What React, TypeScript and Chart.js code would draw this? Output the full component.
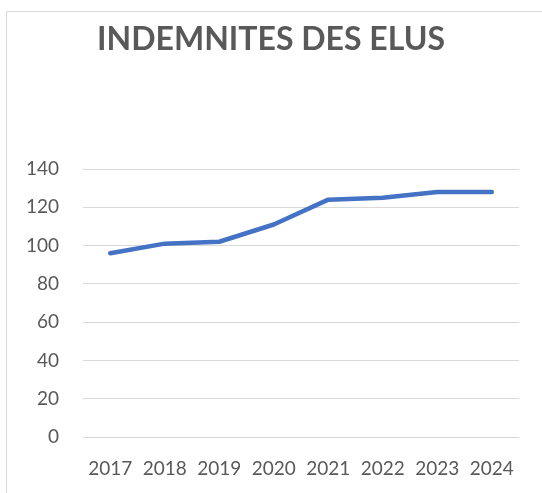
import React, { useEffect, useRef } from "react";
import { Chart, registerables } from "chart.js";

Chart.register(...registerables);

const title = "INDEMNITES DES ELUS";
const years = ["2017", "2018", "2019", "2020", "2021", "2022", "2023", "2024"];
const indemnites = [96, 101, 102, 111, 124, 125, 128, 128];
const yMin = 0;
const yMax = 140;
const yStep = 20;

export default function App() {
  const ref = useRef<HTMLCanvasElement | null>(null);

  useEffect(() => {
    if (!ref.current) return;
    const chart = new Chart(ref.current, {
      type: "line",
      data: {
        labels: years,
        datasets: [
          {
            label: title,
            data: indemnites,
            borderColor: "#4472C4",
            backgroundColor: "#4472C4",
            borderWidth: 4.5,
            pointRadius: 0,
            tension: 0,
            borderCapStyle: "round",
            borderJoinStyle: "round",
          },
        ],
      },
      options: {
        animation: false,
        responsive: false,
        maintainAspectRatio: false,
        layout: { padding: { top: 0, left: 0, right: 0, bottom: 0 } },
        plugins: {
          legend: { display: false },
          tooltip: { enabled: false },
          title: {
            display: true,
            text: title,
            color: "#595959",
            font: { family: "Lato", size: 32, weight: "bold", lineHeight: 1.2 },
            padding: { top: 20, bottom: 110.6 },
          },
        },
        scales: {
          x: {
            offset: true,
            grid: { display: false, drawTicks: false },
            border: { display: false },
            ticks: {
              color: "#595959",
              font: { family: "Lato", size: 19 },
              padding: 20,
              maxRotation: 0,
              autoSkip: false,
            },
            afterFit: (s: any) => {
              s.height = 56;
            },
          },
          y: {
            min: yMin,
            max: yMax,
            grid: { color: "#d9d9d9", lineWidth: 1, drawTicks: false },
            border: { display: false },
            ticks: {
              stepSize: yStep,
              color: "#595959",
              font: { family: "Lato", size: 19 },
              padding: 24,
            },
            afterFit: (s: any) => {
              s.width = 83;
            },
          },
          yRight: {
            position: "right",
            min: yMin,
            max: yMax,
            grid: { display: false, drawTicks: false },
            border: { display: false },
            ticks: { display: false },
            afterFit: (s: any) => {
              s.width = 23;
            },
          },
        },
      },
    });
    return () => chart.destroy();
  }, []);

  return (
    <div style={{ position: "fixed", left: 0, top: 0, width: 542, height: 493, background: "#fff", overflow: "hidden" }}>
      <div
        style={{
          position: "absolute",
          left: 6,
          top: 11,
          width: 600,
          height: 600,
          border: "1px solid #d9d9d9",
        }}
      />
      <canvas ref={ref} width={542} height={493} style={{ position: "absolute", left: 0, top: 0 }} />
    </div>
  );
}
